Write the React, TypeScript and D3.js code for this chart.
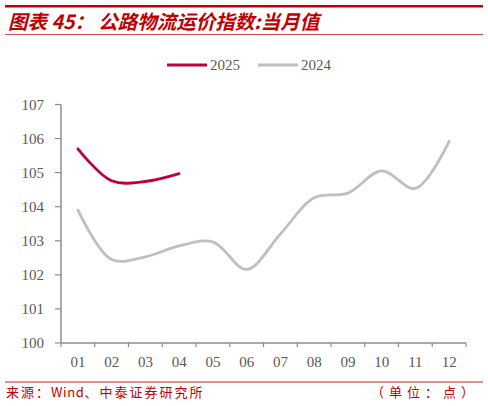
import React from "react";
import * as d3 from "d3";

const months = ["01", "02", "03", "04", "05", "06", "07", "08", "09", "10", "11", "12"];
const values2025 = [105.7, 104.76, 104.74, 104.97];
const values2024 = [103.9, 102.45, 102.53, 102.85, 102.97, 102.16, 103.2, 104.26, 104.4, 105.05, 104.54, 105.92];
const yTicks = [100, 101, 102, 103, 104, 105, 106, 107];
const seriesNames = ["2025", "2024"];

const W = 488;
const H = 406;
const margin = { left: 61, right: 22, top: 104.5, bottom: 63 };

export default function App() {
  const x = d3.scaleBand<string>().domain(months).range([margin.left, W - margin.right]).padding(0);
  const y = d3.scaleLinear().domain([100, 107]).range([H - margin.bottom, margin.top]);
  const line = d3
    .line<number>()
    .x((_, i) => (x(months[i]) as number) + x.bandwidth() / 2)
    .y((d) => y(d))
    .curve(d3.curveCatmullRom.alpha(0.5));

  const axisColor = "#8c8c8c";
  const textColor = "#595959";
  const serif = "'Liberation Serif', 'Times New Roman', serif";
  const cjk = "'Noto Sans CJK SC', sans-serif";
  const y0 = y(100);
  const boundaries = [...months.map((m) => x(m) as number), W - margin.right];

  return (
    <svg width={W} height={H} style={{ position: "absolute", left: 0, top: 0 }}>
      <rect width={W} height={H} fill="#fff" />
      {/* header */}
      <line x1={5} x2={483} y1={6.2} y2={6.2} stroke="#C00000" strokeWidth={2.6} />
      <text
        x={8}
        y={29}
        fill="#C00000"
        fontFamily={cjk}
        fontSize={19.5}
        fontWeight="bold"
        fontStyle="italic"
      >
        图表 45： 公路物流运价指数:当月值
      </text>
      <line x1={5} x2={483} y1={34.5} y2={34.5} stroke="#D14B4B" strokeWidth={1} />

      {/* legend */}
      <line x1={167} x2={207} y1={65} y2={65} stroke="#C0003C" strokeWidth={2.8} />
      <text x={210} y={70} fill={textColor} fontFamily={serif} fontSize={15}>
        {seriesNames[0]}
      </text>
      <line x1={258} x2={298} y1={65} y2={65} stroke="#BFBFBF" strokeWidth={2.8} />
      <text x={301} y={70} fill={textColor} fontFamily={serif} fontSize={15}>
        {seriesNames[1]}
      </text>

      {/* y axis */}
      <line x1={margin.left} x2={margin.left} y1={y(107)} y2={y0} stroke={axisColor} strokeWidth={1.5} />
      {yTicks.map((t) => (
        <g key={t}>
          <line x1={margin.left - 6} x2={margin.left} y1={y(t)} y2={y(t)} stroke={axisColor} strokeWidth={1.2} />
          <text
            x={44}
            y={y(t)}
            dy="0.35em"
            textAnchor="end"
            fill={textColor}
            fontFamily={serif}
            fontSize={15}
          >
            {t}
          </text>
        </g>
      ))}

      {/* x axis */}
      <line x1={margin.left} x2={W - margin.right} y1={y0} y2={y0} stroke={axisColor} strokeWidth={1.5} />
      {boundaries.map((b, i) => (
        <line key={i} x1={b} x2={b} y1={y0} y2={y0 + 4} stroke={axisColor} strokeWidth={1.2} />
      ))}
      {months.map((m) => (
        <text
          key={m}
          x={(x(m) as number) + x.bandwidth() / 2}
          y={361.5}
          dy="0.35em"
          textAnchor="middle"
          fill={textColor}
          fontFamily={serif}
          fontSize={15}
        >
          {m}
        </text>
      ))}

      {/* series */}
      <path d={line(values2024) || ""} fill="none" stroke="#BFBFBF" strokeWidth={2.8} strokeLinecap="round" />
      <path d={line(values2025) || ""} fill="none" stroke="#C0003C" strokeWidth={2.8} strokeLinecap="round" />

      {/* footer */}
      <line x1={5} x2={483} y1={382} y2={382} stroke="#D02020" strokeWidth={1} />
      <text x={6} y={397} fill="#C00000" fontFamily={cjk} fontSize={13}>
        <tspan letterSpacing={2}>来源：</tspan>
        <tspan letterSpacing={0.6}>Wind</tspan>
        <tspan letterSpacing={2}>、中泰证券研究所</tspan>
      </text>
      <text x={371} y={397} fill="#C00000" fontFamily={cjk} fontSize={13} letterSpacing={5}>
        （单位：点）
      </text>
    </svg>
  );
}
